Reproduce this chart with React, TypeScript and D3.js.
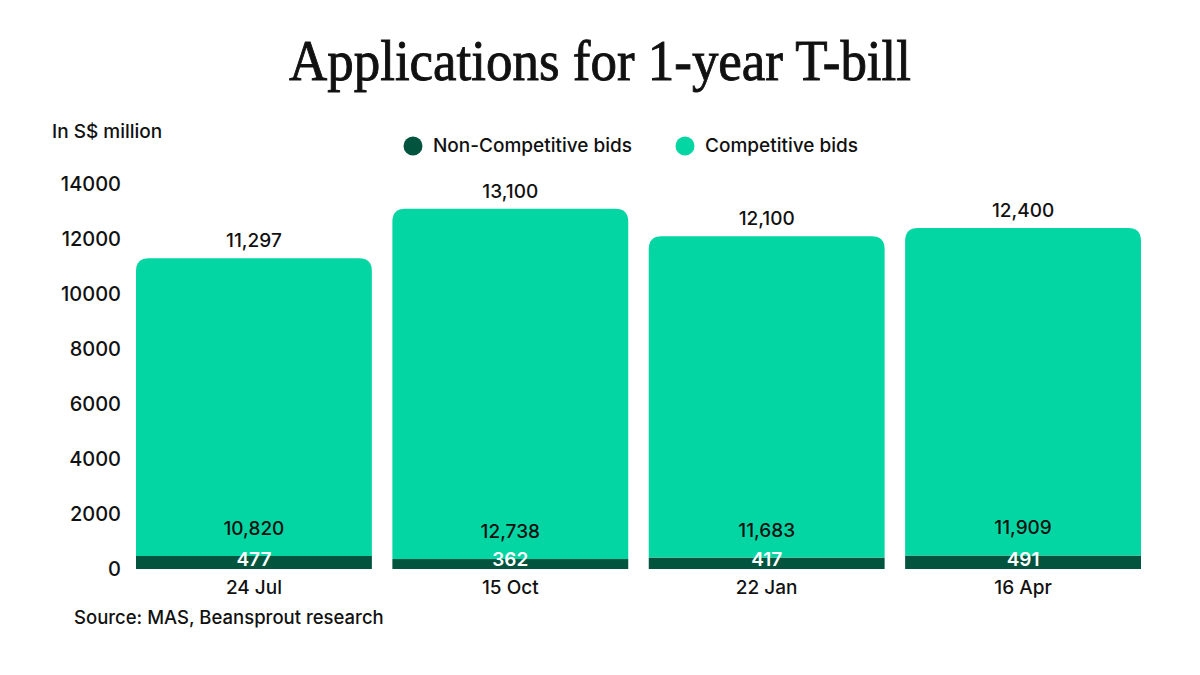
import * as d3 from "d3";
import React from "react";

const dates = ["24 Jul", "15 Oct", "22 Jan", "16 Apr"];
const nonCompetitive = [477, 362, 417, 491];
const competitive = [10820, 12738, 11683, 11909];
const yTicks = [0, 2000, 4000, 6000, 8000, 10000, 12000, 14000];

const DARK = "#03543f";
const LIGHT = "#04d6a3";
const SANS = "Inter, 'Noto Sans', sans-serif";

const W = 1200;
const H = 675;

// top-rounded rectangle
const roundTop = (x: number, y: number, w: number, h: number, r: number) => {
  const rr = Math.min(r, h, w / 2);
  return `M${x},${y + h} L${x},${y + rr} Q${x},${y} ${x + rr},${y} L${x + w - rr},${y} Q${x + w},${y} ${x + w},${y + rr} L${x + w},${y + h} Z`;
};

const App: React.FC = () => {
  const rows = dates.map((d, i) => ({ date: d, non: nonCompetitive[i], comp: competitive[i] }));
  const stack = d3.stack<any>().keys(["non", "comp"])(rows);

  const x = d3.scaleBand().domain(dates).range([136, 1141]).paddingInner(0.08).paddingOuter(0);
  const y = d3.scaleLinear().domain([0, 14000]).range([569, 184]);
  const fmt = d3.format(",");

  return (
    <svg width={W} height={H} viewBox={`0 0 ${W} ${H}`} style={{ display: "block", margin: -8 }}>
      <rect width={W} height={H} fill="#fff" />
      <text
        x={600}
        y={80}
        textAnchor="middle"
        fontFamily="'Liberation Serif', serif"
        fontSize={57}
        textLength={622}
        lengthAdjust="spacingAndGlyphs"
        fill="#111"
        stroke="#111"
        strokeWidth={0.9}
      >
        Applications for 1-year T-bill
      </text>

      <text x={52} y={138} fontFamily={SANS} fontSize={19} fontWeight={500} fill="#111">
        In S$ million
      </text>

      {/* legend */}
      <g fontFamily={SANS} fontSize={19} fontWeight={500} fill="#111">
        <circle cx={413} cy={146} r={9.5} fill={DARK} />
        <text x={433} y={152}>Non-Competitive bids</text>
        <circle cx={685} cy={146} r={9.5} fill={LIGHT} />
        <text x={705} y={152}>Competitive bids</text>
      </g>

      {/* y axis labels */}
      <g fontFamily={SANS} fontSize={20} fontWeight={500} fill="#111" textAnchor="end">
        {yTicks.map((t) => (
          <text key={t} x={121} y={y(t) + 7}>
            {t}
          </text>
        ))}
      </g>

      {/* bars */}
      {stack[0].map((s, i) => {
        const bx = x(dates[i])!;
        return (
          <rect key={"n" + i} x={bx} y={y(s[1])} width={x.bandwidth()} height={y(s[0]) - y(s[1])} fill={DARK} />
        );
      })}
      {stack[1].map((s, i) => {
        const bx = x(dates[i])!;
        return (
          <path key={"c" + i} d={roundTop(bx, y(s[1]), x.bandwidth(), y(s[0]) - y(s[1]), 13)} fill={LIGHT} />
        );
      })}

      {/* labels */}
      <g fontFamily={SANS} fontSize={19} fontWeight={500} textAnchor="middle">
        {rows.map((r, i) => {
          const cx = x(r.date)! + x.bandwidth() / 2;
          const total = r.non + r.comp;
          return (
            <g key={"l" + i}>
              <text x={cx} y={y(total) - 11} fill="#111">
                {fmt(total)}
              </text>
              <text x={cx} y={y(r.non) - 21} fill="#111">
                {fmt(r.comp)}
              </text>
              <text x={cx} y={566} fill="#fff" fontWeight={600}>
                {r.non}
              </text>
              <text x={cx} y={594} fill="#111">
                {r.date}
              </text>
            </g>
          );
        })}
      </g>

      <text x={74} y={624} fontFamily={SANS} fontSize={18.5} fontWeight={500} fill="#111">
        Source: MAS, Beansprout research
      </text>
    </svg>
  );
};

export default App;
